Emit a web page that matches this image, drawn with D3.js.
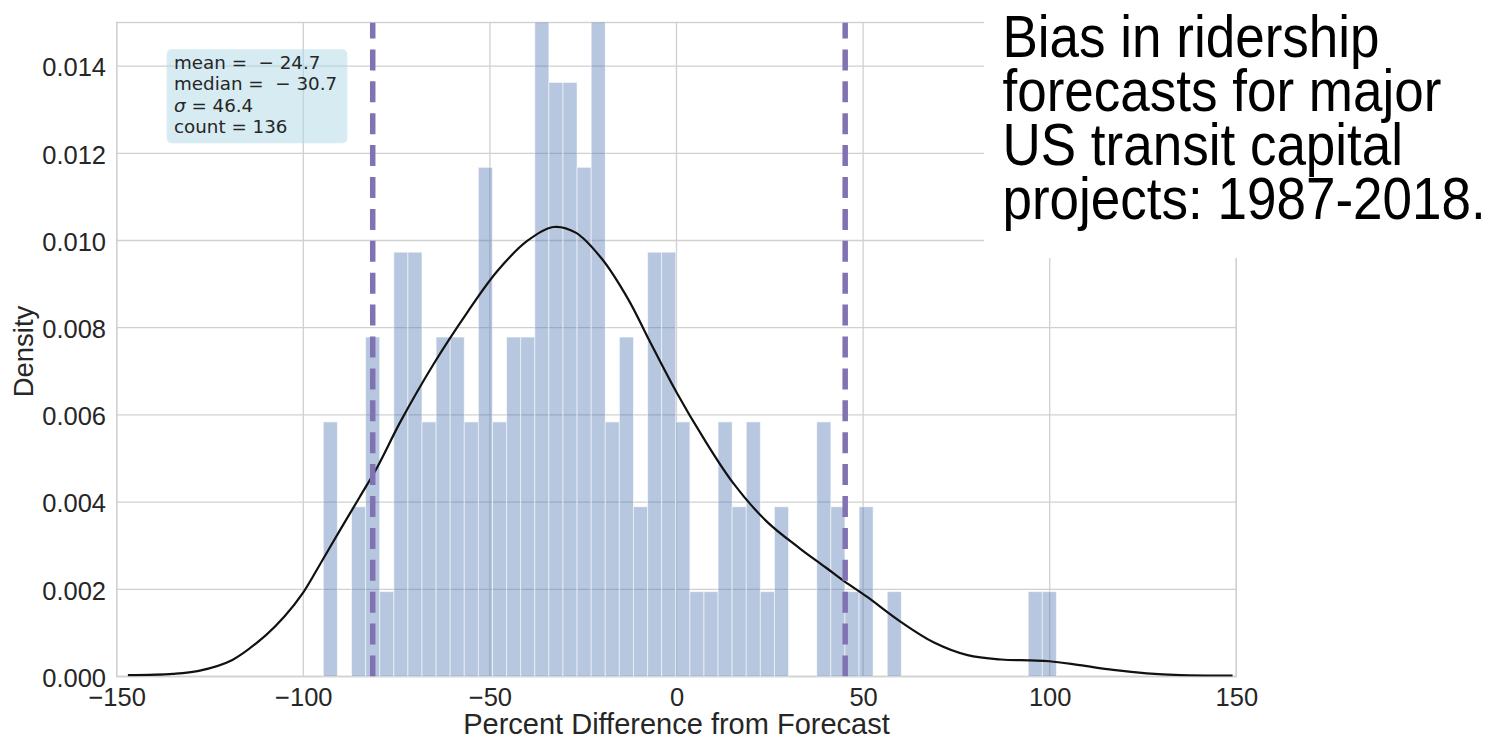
<!DOCTYPE html>
<html>
<head>
<meta charset="utf-8">
<script src="https://cdn.jsdelivr.net/npm/d3@7"></script>
<style>
  html, body { margin: 0; padding: 0; background: #fff; }
  svg { display: block; }
</style>
</head>
<body>
<svg id="chart" width="1496" height="739"></svg>
<script>
// ---------------- data ----------------
const histMin = -94.64;          // smallest observation (first bin edge)
const histMax = 101.8;           // largest observation (last bin edge)
const binCounts = [3,0,2,4,1,5,5,3,4,4,3,6,3,4,4,11,7,7,6,8,
                   3,4,2,5,5,3,1,1,3,2,3,1,2,0,0,3,2,1,2,0,
                   1,0,0,0,0,0,0,0,0,0,1,1];
const totalCount = 136;
const kdeX = [-147,-135,-128,-119,-110,-105,-100,-95,-90,-85,-80,-74,-65,-56,-48,-40,-33,-27,-20,-13,-7,0,7,15,24,33,40,45,51,60,69,78,87,95,100,108,117,126,135,149];
const kdeY = [0.00003,0.00006,0.00013,0.00038,0.00095,0.00138,0.00193,0.00265,0.00338,0.00410,0.00483,0.00584,0.00718,0.00836,0.00930,0.00999,0.01031,0.01018,0.00958,0.00866,0.00766,0.00652,0.00550,0.00446,0.00357,0.00294,0.00250,0.00218,0.00183,0.00126,0.00078,0.00049,0.00039,0.00037,0.00035,0.00026,0.00015,0.00007,0.00003,0.00002];
const percentileLines = [-81.4, 45.2];
const xTicks = [-150,-100,-50,0,50,100,150];
const yTicks = [0,0.002,0.004,0.006,0.008,0.010,0.012,0.014];
const statLines = ["mean = \u00a0\u2212 24.7", "median = \u00a0\u2212 30.7", "\u03c3 = 46.4", "count = 136"];
const titleLines = ["Bias in ridership", "forecasts for major", "US transit capital", "projects: 1987-2018."];
const xLabel = "Percent Difference from Forecast";
const yLabel = "Density";

// ---------------- layout ----------------
const L = 116.7, R = 1236.3, T = 22.5, B = 676.5;
const svg = d3.select("#chart");
const x = d3.scaleLinear().domain([-150, 150]).range([L, R]);
const y = d3.scaleLinear().domain([0, 0.015]).range([B, T]);
const gridColor = "#d0d0d0";
const tickFont = "'Liberation Sans', Arial, Helvetica, sans-serif";

svg.append("defs").append("clipPath").attr("id", "plotclip")
  .append("rect").attr("x", L).attr("y", T).attr("width", R - L).attr("height", B - T);

// grid
const grid = svg.append("g");
grid.selectAll("line.vx").data(xTicks).enter().append("line")
  .attr("x1", d => x(d)).attr("x2", d => x(d)).attr("y1", T).attr("y2", B)
  .attr("stroke", gridColor).attr("stroke-width", 1.3);
grid.selectAll("line.hy").data(yTicks).enter().append("line")
  .attr("x1", L).attr("x2", R).attr("y1", d => y(d)).attr("y2", d => y(d))
  .attr("stroke", gridColor).attr("stroke-width", 1.3);
// frame
svg.append("rect").attr("x", L).attr("y", T).attr("width", R - L).attr("height", B - T)
  .attr("fill", "none").attr("stroke", gridColor).attr("stroke-width", 1.4);

// histogram bars
const nb = binCounts.length;
const bw = (histMax - histMin) / nb;
const bins = binCounts.map((c, i) => ({x0: histMin + i * bw, x1: histMin + (i + 1) * bw, density: c / (totalCount * bw)}));
const plot = svg.append("g").attr("clip-path", "url(#plotclip)");
plot.selectAll("rect.bar").data(bins.filter(b => b.density > 0)).enter().append("rect")
  .attr("class", "bar")
  .attr("x", d => x(d.x0)).attr("width", d => x(d.x1) - x(d.x0))
  .attr("y", d => y(d.density)).attr("height", d => B - y(d.density))
  .attr("fill", "#4c72b0").attr("fill-opacity", 0.4)
  .attr("stroke", "#ffffff").attr("stroke-opacity", 0.55).attr("stroke-width", 1);

// KDE
const kde = kdeX.map((v, i) => [v, kdeY[i]]);
plot.append("path").datum(kde)
  .attr("d", d3.line().x(d => x(d[0])).y(d => y(d[1])).curve(d3.curveCatmullRom.alpha(0.5)))
  .attr("fill", "none").attr("stroke", "#111").attr("stroke-width", 2.2);

// percentile lines
plot.selectAll("line.pct").data(percentileLines).enter().append("line")
  .attr("x1", d => x(d)).attr("x2", d => x(d)).attr("y1", B).attr("y2", T)
  .attr("stroke", "#8172b2").attr("stroke-width", 5.5)
  .attr("stroke-dasharray", "21,10.9");

// axes labels via d3 axes
const xAxis = svg.append("g").attr("transform", `translate(0,${B})`)
  .call(d3.axisBottom(x).tickValues(xTicks).tickSize(0).tickPadding(11.4)
        .tickFormat(d => d3.format("d")(d).replace("-", "\u2212")));
const yAxis = svg.append("g").attr("transform", `translate(${L},0)`)
  .call(d3.axisLeft(y).tickValues(yTicks).tickSize(0).tickPadding(10.7).tickFormat(d3.format(".3f")));
[xAxis, yAxis].forEach(a => {
  a.select(".domain").remove();
  a.selectAll("text").attr("font-family", tickFont).attr("font-size", 25.5).attr("fill", "#262626");
});
yAxis.selectAll("text").attr("dy", "0.38em");

svg.append("text").attr("x", (L + R) / 2).attr("y", 734.3).attr("text-anchor", "middle")
  .attr("font-family", tickFont).attr("font-size", 29).attr("fill", "#262626").text(xLabel);
svg.append("text").attr("transform", `translate(33,${(T + B) / 2 + 2}) rotate(-90)`).attr("text-anchor", "middle")
  .attr("font-family", tickFont).attr("font-size", 27.5).attr("fill", "#262626").text(yLabel);

// stats box
svg.append("rect").attr("x", 166.7).attr("y", 49.3).attr("width", 180.6).attr("height", 94)
  .attr("rx", 5).attr("fill", "#add8e6").attr("fill-opacity", 0.5);
const st = svg.append("text").attr("font-family", "'DejaVu Sans', sans-serif").attr("font-size", 18.3)
  .attr("fill", "#262626").attr("xml:space", "preserve");
statLines.forEach((s, i) => {
  const t = st.append("tspan").attr("x", 174).attr("y", 69 + i * 21.4);
  if (s.startsWith("\u03c3")) {
    t.append("tspan").attr("font-style", "italic").text("\u03c3");
    t.append("tspan").text(s.slice(1));
  } else t.text(s);
});

// title panel
svg.append("rect").attr("x", 984).attr("y", 0).attr("width", 512).attr("height", 258).attr("fill", "#fff");
const tt = svg.append("text").attr("font-family", "'Liberation Sans', Arial, sans-serif")
  .attr("font-size", 53).attr("fill", "#000")
  .attr("transform", "translate(1002.5,0) scale(1,1.13)");
titleLines.forEach((s, i) => {
  tt.append("tspan").attr("x", 0).attr("y", (56.7 + i * 54) / 1.13).text(s);
});
</script>
</body>
</html>
